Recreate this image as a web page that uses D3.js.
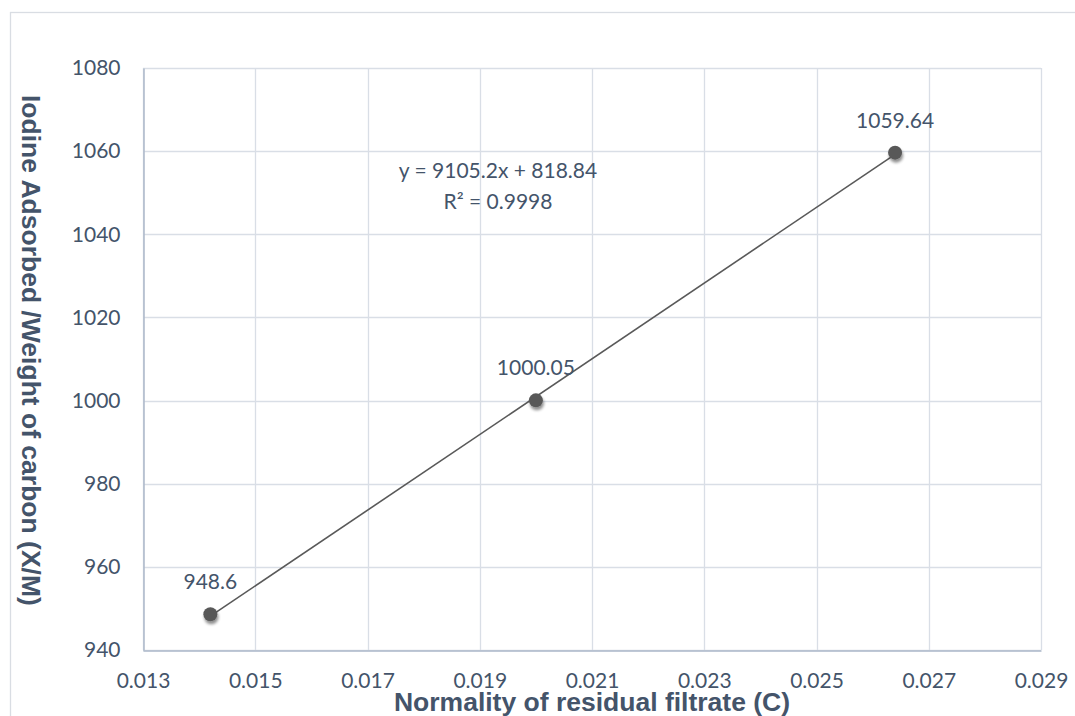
<!DOCTYPE html>
<html>
<head>
<meta charset="utf-8">
<script src="https://cdn.jsdelivr.net/npm/d3@7"></script>
<style>
  html, body { margin: 0; padding: 0; background: #fff; overflow: hidden; }
  svg { display: block; }
</style>
</head>
<body>
<svg id="chart" width="1075" height="716"></svg>
<script>
// Iodine adsorption isotherm data
const normality = [0.0142, 0.0200, 0.0264];
const adsorbed = [948.6, 1000.05, 1059.64];
const pointLabels = ["948.6", "1000.05", "1059.64"];
const xTicks = [0.013, 0.015, 0.017, 0.019, 0.021, 0.023, 0.025, 0.027, 0.029];
const yTicks = [940, 960, 980, 1000, 1020, 1040, 1060, 1080];
const fitSlope = 9105.2;
const fitIntercept = 818.84;
const fitText = ["y = 9105.2x + 818.84", "R² = 0.9998"];

const svg = d3.select("#chart");
const W = 1075, H = 716;
const plot = { left: 143, right: 1041, top: 68, bottom: 650 };
const textColor = "#44546A";
const tickFont = "Lato, 'Open Sans', sans-serif";
const titleFont = "'Liberation Sans', Arial, sans-serif";

// Chart frame
svg.append("rect")
  .attr("x", 10.5).attr("y", 12.5)
  .attr("width", W + 10).attr("height", H + 10)
  .attr("fill", "#fff")
  .attr("stroke", "#D9DDE3").attr("stroke-width", 1.3);

const x = d3.scaleLinear().domain([0.013, 0.029]).range([plot.left, plot.right]);
const y = d3.scaleLinear().domain([940, 1080]).range([plot.bottom, plot.top]);

// Gridlines
const grid = svg.append("g");
grid.selectAll("line.v").data(xTicks).join("line")
  .attr("x1", d => Math.round(x(d)) + 0.5).attr("x2", d => Math.round(x(d)) + 0.5)
  .attr("y1", plot.top).attr("y2", plot.bottom)
  .attr("stroke", "#D9DEE6").attr("stroke-width", 1.3);
grid.selectAll("line.h").data(yTicks).join("line")
  .attr("y1", d => Math.round(y(d)) + 0.5).attr("y2", d => Math.round(y(d)) + 0.5)
  .attr("x1", plot.left).attr("x2", plot.right)
  .attr("stroke", "#D9DEE6").attr("stroke-width", 1.3);

// Axes
const xAxis = d3.axisBottom(x).tickValues(xTicks).tickFormat(d3.format(".3f")).tickSize(0).tickPadding(23);
const yAxis = d3.axisLeft(y).tickValues(yTicks).tickFormat(d3.format("d")).tickSize(0).tickPadding(23);

const gx = svg.append("g").attr("transform", `translate(0,${plot.bottom + 0.5})`).call(xAxis);
const gy = svg.append("g").attr("transform", `translate(${plot.left + 0.5},0)`).call(yAxis);
[gx, gy].forEach(g => {
  g.attr("font-size", null).attr("font-family", null);
  g.select(".domain").attr("stroke", "#ADB9CA").attr("stroke-width", 1.5);
  g.selectAll("text").attr("fill", textColor).style("font-family", tickFont).style("font-size", "21px");
});

// Trendline across the data range
const xs = d3.extent(normality);
svg.append("line")
  .attr("x1", x(xs[0])).attr("y1", y(fitSlope * xs[0] + fitIntercept))
  .attr("x2", x(xs[1])).attr("y2", y(fitSlope * xs[1] + fitIntercept))
  .attr("stroke", "#595959").attr("stroke-width", 1.6);

// Marker shadow
const defs = svg.append("defs");
const f = defs.append("filter").attr("id", "shadow").attr("x", "-100%").attr("y", "-100%").attr("width", "300%").attr("height", "300%");
f.append("feGaussianBlur").attr("in", "SourceAlpha").attr("stdDeviation", 1.8).attr("result", "b");
f.append("feOffset").attr("in", "b").attr("dx", 0.5).attr("dy", 2.5).attr("result", "o");
f.append("feComponentTransfer").attr("in", "o").attr("result", "s")
  .append("feFuncA").attr("type", "linear").attr("slope", 0.45);
const m = f.append("feMerge");
m.append("feMergeNode").attr("in", "s");
m.append("feMergeNode").attr("in", "SourceGraphic");

const pts = normality.map((n, i) => ({ n, v: adsorbed[i], label: pointLabels[i] }));

svg.append("g").selectAll("circle").data(pts).join("circle")
  .attr("cx", d => x(d.n)).attr("cy", d => y(d.v)).attr("r", 7)
  .attr("fill", "#595959").attr("filter", "url(#shadow)");

// Data labels
svg.append("g").selectAll("text").data(pts).join("text")
  .attr("x", d => x(d.n)).attr("y", d => y(d.v) - 25)
  .attr("text-anchor", "middle")
  .attr("fill", textColor).style("font-family", tickFont).style("font-size", "21px")
  .text(d => d.label);

// Regression equation
svg.append("g").selectAll("text").data(fitText).join("text")
  .attr("x", 498).attr("y", (d, i) => 178 + i * 31)
  .attr("text-anchor", "middle")
  .attr("fill", textColor).style("font-family", tickFont).style("font-size", "21px")
  .text(d => d);

// Axis titles
svg.append("text")
  .attr("x", (plot.left + plot.right) / 2).attr("y", 711)
  .attr("text-anchor", "middle")
  .attr("fill", textColor)
  .style("font-family", titleFont).style("font-size", "26.5px").style("font-weight", "bold")
  .text("Normality of residual filtrate (C)");

svg.append("text")
  .attr("transform", "translate(22,95) rotate(90)")
  .attr("text-anchor", "start")
  .attr("fill", textColor)
  .style("font-family", titleFont).style("font-size", "26.5px").style("font-weight", "bold")
  .text("Iodine Adsorbed /Weight of carbon (X/M)");
</script>
</body>
</html>
